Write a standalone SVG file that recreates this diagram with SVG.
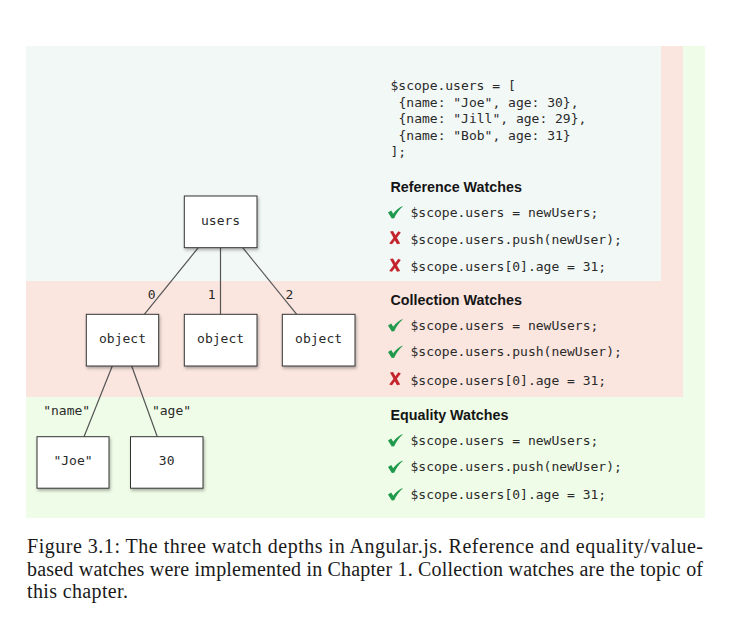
<svg xmlns="http://www.w3.org/2000/svg" xmlns:xlink="http://www.w3.org/1999/xlink" width="737" height="623" viewBox="0 0 737 623">
<defs>
<style>
.mono{font-family:"DejaVu Sans Mono","Liberation Mono",monospace;font-size:13px;fill:#2a2a2a}
.node rect{fill:#ffffff;stroke:#333333;stroke-width:1;filter:url(#sh)}
.node text{text-anchor:middle}
.lbl{text-anchor:middle}
.head{font-family:"Liberation Sans",Arial,sans-serif;font-weight:bold;font-size:14.3px;fill:#151515}
.cap{font-family:"Liberation Serif","Times New Roman",serif;font-size:20px;fill:#1a1a1a}
#edges line{stroke:#555555;stroke-width:1.2}
</style>
<filter id="sh" x="-20%" y="-20%" width="150%" height="150%">
<feDropShadow dx="1" dy="2" stdDeviation="1.5" flood-color="#000" flood-opacity="0.3"/>
</filter>
<path id="ok" d="M0,6.6 L3.2,4.6 L5.2,7.8 C7.8,4.4 10.8,1.6 14.5,0 L14.5,0.8 C11.2,3.4 8.4,7.4 6.2,12.2 L3.8,12.4 Z" fill="#1f9a4c"/>
<g id="no" fill="#c4242b">
<path d="M0.8,0.6 L3.8,0 L11,12.4 L7.8,13.2 Z"/>
<path d="M9.2,0.2 L11.6,1.4 L2.8,13.2 L0,12.6 Z"/>
</g>
</defs>
<rect width="737" height="623" fill="#ffffff"/>
<g id="bands">
<rect x="26" y="46" width="679" height="472" fill="#effce7"/>
<rect x="26" y="46" width="657" height="351" fill="#fae5df"/>
<rect x="26" y="46" width="635" height="235" fill="#f2f8f6"/>
</g>
<g id="edges">
<line x1="198.3" y1="247.7" x2="144.3" y2="314.3"/>
<line x1="220.5" y1="247.7" x2="220.5" y2="314.3"/>
<line x1="242.7" y1="247.7" x2="296.7" y2="314.3"/>
<line x1="112.3" y1="366" x2="84" y2="436.7"/>
<line x1="131.7" y1="366" x2="157.3" y2="436.7"/>
<g class="mono lbl">
<text x="151.7" y="298.5">0</text>
<text x="211.7" y="298.5">1</text>
<text x="289.5" y="298.5">2</text>
<text x="66.7" y="414.5">"name"</text>
<text x="171.5" y="414.5">"age"</text>
</g>
</g>
<g id="n-users" class="node"><rect x="184.3" y="196" width="72.7" height="51.7"/><text class="mono" x="220.6" y="224.5">users</text></g>
<g id="n-obj0" class="node"><rect x="86.3" y="314.3" width="72.4" height="51.7"/><text class="mono" x="122.5" y="342.5">object</text></g>
<g id="n-obj1" class="node"><rect x="184.3" y="314.3" width="72.7" height="51.7"/><text class="mono" x="220.6" y="342.5">object</text></g>
<g id="n-obj2" class="node"><rect x="282.3" y="314.3" width="72.7" height="51.7"/><text class="mono" x="318.6" y="342.5">object</text></g>
<g id="n-joe" class="node"><rect x="37" y="436.7" width="72" height="51.5"/><text class="mono" x="73" y="465">"Joe"</text></g>
<g id="n-30" class="node"><rect x="130.5" y="436.7" width="72.5" height="51.5"/><text class="mono" x="166.7" y="465">30</text></g>
<g id="code" class="mono">
<text x="390.5" y="90">$scope.users = [</text>
<text x="398.5" y="106.5">{name: "Joe", age: 30},</text>
<text x="398.5" y="123">{name: "Jill", age: 29},</text>
<text x="398.5" y="139.5">{name: "Bob", age: 31}</text>
<text x="390.5" y="156">];</text>
</g>
<g id="reference">
<text class="head" x="390.5" y="191.5">Reference Watches</text>
<use xlink:href="#ok" href="#ok" x="388" y="206"/><text class="mono" x="410.5" y="216.5">$scope.users = newUsers;</text>
<use xlink:href="#no" href="#no" x="389.2" y="231"/><text class="mono" x="410.5" y="243.5">$scope.users.push(newUser);</text>
<use xlink:href="#no" href="#no" x="389.2" y="258.5"/><text class="mono" x="410.5" y="271">$scope.users[0].age = 31;</text>
</g>
<g id="collection">
<text class="head" x="390.5" y="305">Collection Watches</text>
<use xlink:href="#ok" href="#ok" x="388" y="319"/><text class="mono" x="410.5" y="329.5">$scope.users = newUsers;</text>
<use xlink:href="#ok" href="#ok" x="388" y="345.5"/><text class="mono" x="410.5" y="356">$scope.users.push(newUser);</text>
<use xlink:href="#no" href="#no" x="389.2" y="372"/><text class="mono" x="410.5" y="384.5">$scope.users[0].age = 31;</text>
</g>
<g id="equality">
<text class="head" x="390.5" y="419.5">Equality Watches</text>
<use xlink:href="#ok" href="#ok" x="388" y="434"/><text class="mono" x="410.5" y="444.5">$scope.users = newUsers;</text>
<use xlink:href="#ok" href="#ok" x="388" y="460.5"/><text class="mono" x="410.5" y="471">$scope.users.push(newUser);</text>
<use xlink:href="#ok" href="#ok" x="388" y="488"/><text class="mono" x="410.5" y="498.5">$scope.users[0].age = 31;</text>
</g>
<g id="caption" class="cap">
<text x="27" y="553.3" textLength="676" lengthAdjust="spacing">Figure 3.1: The three watch depths in Angular.js. Reference and equality/value-</text>
<text x="27" y="575.5" textLength="676" lengthAdjust="spacing">based watches were implemented in Chapter 1. Collection watches are the topic of</text>
<text x="27" y="597.5" textLength="101" lengthAdjust="spacing">this chapter.</text>
</g>
</svg>
